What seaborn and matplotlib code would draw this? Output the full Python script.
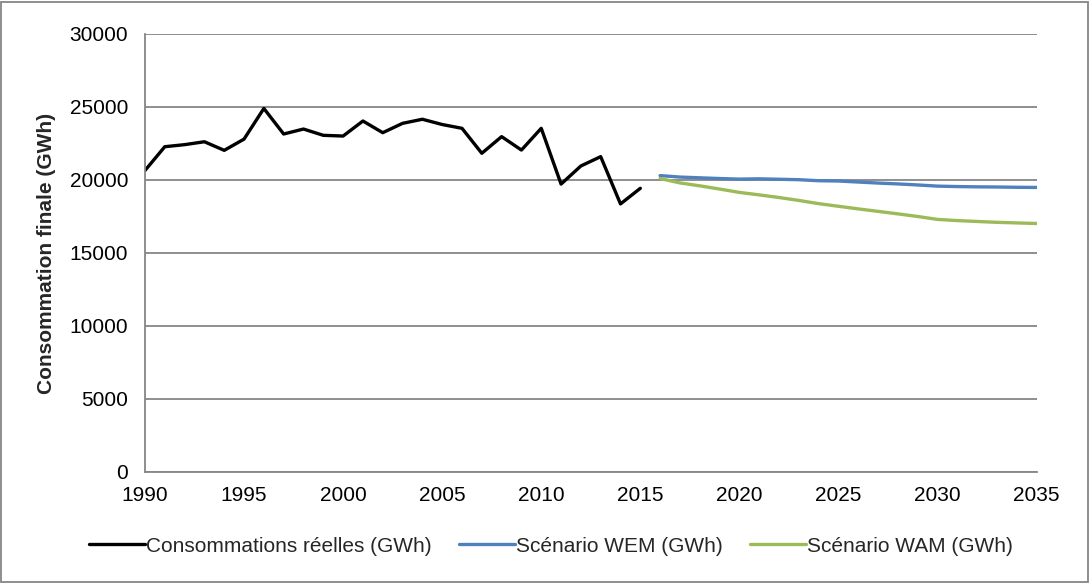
import numpy as np
import pandas as pd
import matplotlib
matplotlib.use("Agg")
import matplotlib.pyplot as plt
import seaborn as sns

# Données
annees_reel = list(range(1990, 2016))
conso_reelle = [20650, 22280, 22420, 22620, 22030, 22800, 24900, 23150, 23490, 23060,
                23010, 24040, 23240, 23880, 24160, 23800, 23540, 21830, 22970, 22050,
                23540, 19720, 20960, 21600, 18360, 19430]

annees_proj = list(range(2016, 2036))
wem = [20300, 20200, 20150, 20100, 20060, 20080, 20050, 20020, 19950, 19930,
       19860, 19790, 19730, 19660, 19580, 19550, 19530, 19520, 19500, 19490]
wam = [20100, 19800, 19600, 19380, 19150, 18980, 18800, 18600, 18380, 18200,
       18020, 17850, 17680, 17500, 17300, 17220, 17160, 17100, 17060, 17020]

labels = ["Consommations réelles (GWh)", "Scénario WEM (GWh)", "Scénario WAM (GWh)"]
couleurs = ["#000000", "#4F81BD", "#9BBB59"]

sns.set_theme(style="white")
plt.rcParams['font.family'] = ['Liberation Sans', 'DejaVu Sans']

gris = "#868686"

fig = plt.figure(figsize=(10.9, 5.83), dpi=100)
ax = fig.add_axes([0.133, 0.1904, 0.818, 0.7513])

sns.lineplot(x=annees_reel, y=conso_reelle, ax=ax, color=couleurs[0], lw=2.4, label=labels[0])
sns.lineplot(x=annees_proj, y=wem, ax=ax, color=couleurs[1], lw=2.4, label=labels[1])
sns.lineplot(x=annees_proj, y=wam, ax=ax, color=couleurs[2], lw=2.4, label=labels[2])

ax.set_xlim(1990, 2035)
ax.set_ylim(0, 30000)
ax.set_xticks(range(1990, 2036, 5))
ax.set_yticks(range(0, 30001, 5000))
ax.yaxis.grid(True, color=gris, lw=1.3)
ax.xaxis.grid(False)

for side in ["top", "right"]:
    ax.spines[side].set_visible(False)
for side in ["left", "bottom"]:
    ax.spines[side].set_color(gris)
    ax.spines[side].set_linewidth(1.3)

ax.tick_params(axis="both", which="major", direction="out", length=5, width=1.3,
               color=gris, labelsize=15, labelcolor="black")
ax.tick_params(axis="x", pad=5)
ax.tick_params(axis="y", pad=7)
ax.set_xlabel("")
ax.set_ylabel("Consommation finale (GWh)", fontsize=15, fontweight="bold", labelpad=10)

ax.legend(loc="upper center", bbox_to_anchor=(0.455, -0.105), ncol=3, frameon=False,
          fontsize=15, handlelength=2.7, handletextpad=0.05, columnspacing=1.3)

# cadre autour de la figure
fig.patches.append(plt.Rectangle((0.001, 0.002), 0.997, 0.995, transform=fig.transFigure,
                                 fill=False, edgecolor=gris, lw=1.3))

fig.savefig("out.png", dpi=100)
